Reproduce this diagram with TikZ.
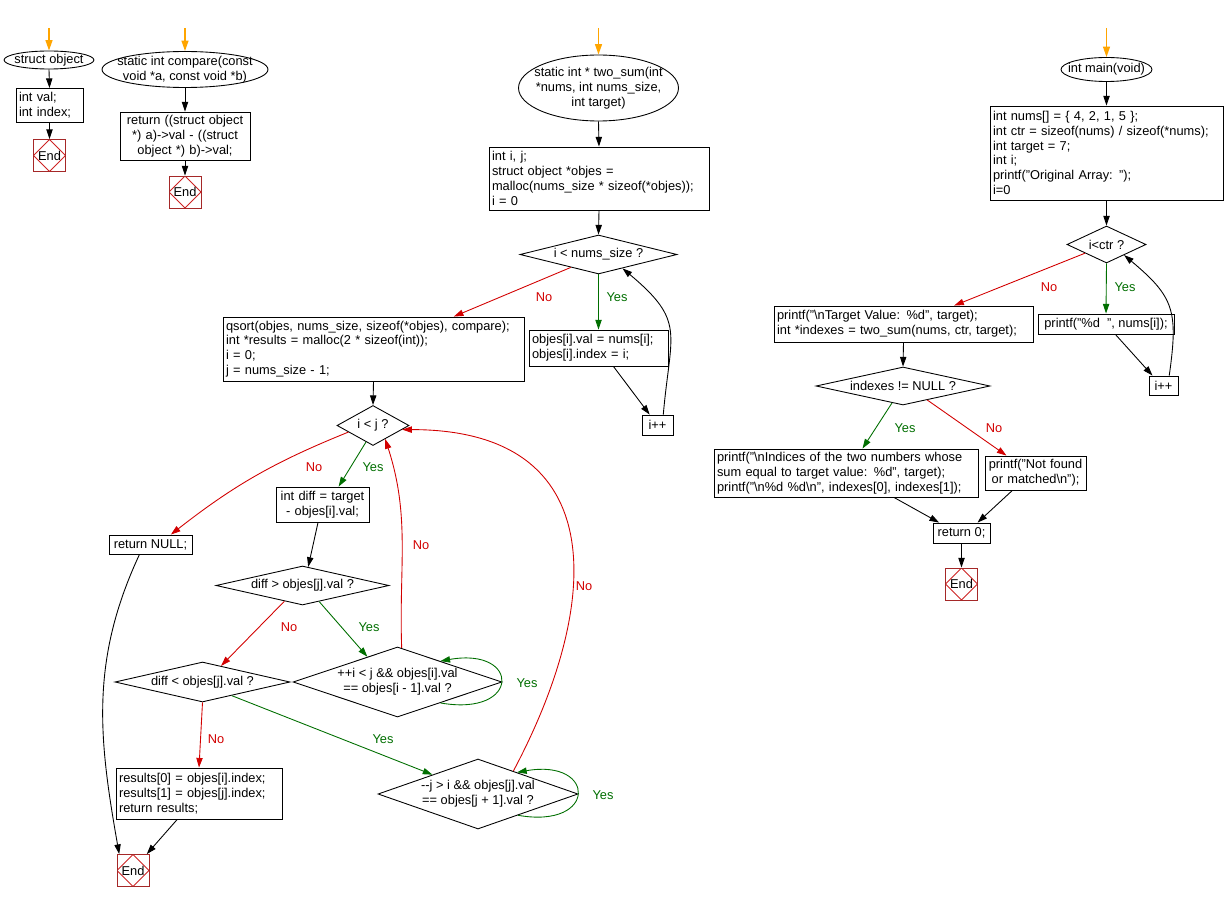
\documentclass[tikz,border=0pt]{standalone}
\usepackage{fontspec}
\setmainfont{Liberation Sans}
\usetikzlibrary{shapes.geometric,arrows.meta,positioning}

\definecolor{cYes}{RGB}{0,110,0}
\definecolor{cNo}{RGB}{210,0,0}
\definecolor{cStart}{RGB}{255,165,0}
\definecolor{cEnd}{RGB}{165,40,40}
\definecolor{cEndIn}{RGB}{205,35,35}

\tikzset{
  flow/.style={-{Triangle[length=5.5pt,width=3.6pt]}},
  yesarr/.style={flow, cYes},
  noarr/.style={flow, cNo},
  entry/.style={-{Triangle[length=6pt,width=4pt]}, cStart, line width=0.8pt},
  proc/.style={draw, inner xsep=0.06cm, inner ysep=0.04cm, align=left},
  proccen/.style={proc, align=center},
  term/.style={inner sep=0pt, align=center},
  cond/.style={draw, diamond, inner sep=0pt, align=center},
  endbox/.style={draw=cEnd, minimum size=0.64cm, inner sep=0pt,
    path picture={\draw[cEndIn] (path picture bounding box.north)
      -- (path picture bounding box.east) -- (path picture bounding box.south)
      -- (path picture bounding box.west) -- cycle;}},
  yeslbl/.style={text=cYes, inner sep=1pt},
  nolbl/.style={text=cNo, inner sep=1pt},
}

\begin{document}
\begin{tikzpicture}[x=0.02cm, y=-0.02cm,
  font=\fontsize{7.3pt}{8.4pt}\selectfont, line width=0.5pt]

\useasboundingbox (0,0) rectangle (1224,902);

%% ---------- struct object ----------
\coordinate (st1) at (49,28);
\node[term, minimum width=1.8cm, minimum height=0.36cm] (sobj) at (49,60) {struct object};
\node[proc, text width=1.22cm, minimum height=0.68cm] (obj) at (49.5,105.5) {int val;\\int index;};
\node[endbox] (end1) at (49.5,155.5) {End};

%% ---------- compare ----------
\coordinate (st2) at (185,28);
\node[term, minimum width=3.32cm, minimum height=0.72cm] (cmp) at (185,69.5)
  {static int compare(const\\void *a, const void *b)};
\node[proccen, text width=2.48cm, minimum height=0.96cm] (cmpb) at (185,136)
  {return ((struct object\\{}*) a)->val - ((struct\\object *) b)->val;};
\node[endbox] (end2) at (185,192) {End};

%% ---------- two_sum ----------
\coordinate (st3) at (598.5,28);
\node[term, minimum width=3.2cm, minimum height=1.32cm] (tsum) at (598.5,88)
  {static int * two\_sum(int\\{}*nums, int nums\_size,\\int target)};
\node[proc, text width=4.28cm, minimum height=1.26cm] (init) at (599,178.5)
  {int i, j;\\struct object *objes =\\malloc(nums\_size * sizeof(*objes));\\i = 0};
\node[cond, aspect=4, minimum width=3.14cm, minimum height=0.78cm] (nsz) at (598.5,254.5) {i < nums\_size ?};
\node[proc, text width=2.66cm, minimum height=0.72cm] (objes) at (598.5,348)
  {objes[i].val = nums[i];\\objes[i].index = i;};
\node[proccen, minimum width=0.62cm, minimum height=0.4cm] (ippa) at (657.5,425) {i++};
\node[proc, text width=5.9cm, minimum height=1.28cm] (qsort) at (373.5,349)
  {qsort(objes, nums\_size, sizeof(*objes), compare);\\int *results = malloc(2 * sizeof(int));\\i = 0;\\j = nums\_size - 1;};
\node[cond, aspect=1.8, minimum width=1.44cm, minimum height=0.8cm] (ilj) at (373,425.5) {i < j ?};
\node[proccen, text width=1.74cm, minimum height=0.7cm] (diff) at (322.5,504.5)
  {int diff = target\\- objes[i].val;};
\node[proccen, minimum width=1.66cm, minimum height=0.38cm] (retnull) at (150.5,544.5) {return NULL;};
\node[cond, aspect=4.4, minimum width=3.46cm, minimum height=0.78cm] (dgt) at (302.5,585.5) {diff > objes[j].val ?};
\node[cond, aspect=4.4, minimum width=3.5cm, minimum height=0.8cm] (dlt) at (202.5,682) {diff < objes[j].val ?};
\node[cond, aspect=3, minimum width=4.18cm, minimum height=1.4cm] (inc) at (397.5,682)
  {++i < j \&\& objes[i].val\\== objes[i - 1].val ?};
\node[proc, text width=3.2cm, minimum height=1.02cm] (results) at (199,793.5)
  {results[0] = objes[i].index;\\results[1] = objes[j].index;\\return results;};
\node[cond, aspect=2.86, minimum width=4cm, minimum height=1.4cm] (dec) at (478,794)
  {-{}-j > i \&\& objes[j].val\\== objes[j + 1].val ?};
\node[endbox] (end3) at (133,870.5) {End};

%% ---------- main ----------
\coordinate (st4) at (1106.5,28);
\node[term, minimum width=1.82cm, minimum height=0.48cm] (mainel) at (1106.5,69.5) {int main(void)};
\node[proc, text width=4.54cm, minimum height=1.88cm] (minit) at (1106.5,153)
  {int nums[] = \{ 4, 2, 1, 5 \};\\int ctr = sizeof(nums) / sizeof(*nums);\\int target = 7;\\int i;\\printf("Original Array: ");\\i=0};
\node[cond, aspect=2.1, minimum width=1.58cm, minimum height=0.74cm] (ictr) at (1106.5,244.5) {i<ctr ?};
\node[proccen, minimum width=2.72cm, minimum height=0.4cm] (pd) at (1106,324) {printf("\%d~~", nums[i]);};
\node[proccen, minimum width=0.58cm, minimum height=0.38cm] (ippb) at (1163.5,385.5) {i++};
\node[proc, text width=5.06cm, minimum height=0.72cm] (ptgt) at (903.5,324)
  {printf("\textbackslash nTarget Value: \%d", target);\\int *indexes = two\_sum(nums, ctr, target);};
\node[cond, aspect=4.6, minimum width=3.48cm, minimum height=0.76cm] (inn) at (903,386) {indexes != NULL ?};
\node[proc, text width=5.16cm, minimum height=0.96cm] (ind) at (846,473)
  {printf("\textbackslash nIndices of the two numbers whose\\sum equal to target value: \%d", target);\\printf("\textbackslash n\%d \%d\textbackslash n", indexes[0], indexes[1]);};
\node[proccen, text width=1.9cm, minimum height=0.68cm] (nf) at (1035.5,473)
  {printf("Not found\\or matched\textbackslash n");};
\node[proccen, minimum width=1.14cm, minimum height=0.4cm] (ret0) at (961.5,533) {return 0;};
\node[endbox] (end4) at (961.5,584) {End};

%% terminal outlines
\foreach \nd/\rx/\ry in {sobj/0.9cm/0.18cm, cmp/1.66cm/0.36cm, tsum/1.6cm/0.66cm, mainel/0.91cm/0.24cm}
  \draw (\nd.center) ellipse [x radius=\rx, y radius=\ry];

%% ---------- connectors ----------
\draw[entry] (st1) -- (sobj.north);
\draw[flow] (sobj.south) -- (obj.north);
\draw[flow] (obj.south) -- (end1.north);

\draw[entry] (st2) -- (cmp.north);
\draw[flow] (cmp.south) -- (cmpb.north);
\draw[flow] (cmpb.south) -- (end2.north);

\draw[entry] (st3) -- (tsum.north);
\draw[flow] (tsum.south) -- (init.north);
\draw[flow] (init.south) -- (nsz.north);
\draw[noarr] (nsz.205) -- (qsort.22);
\draw[yesarr] (nsz.south) -- (objes.north);
\draw[flow] (objes.-51) -- (ippa.127);
\draw[flow] (ippa.61) to[out=85, in=-40, looseness=1.4] (nsz.-30);
\draw[flow] (qsort.south) -- (ilj.north);
\draw[noarr] (ilj.195) to[bend right=8] (retnull.26);
\draw[yesarr] (ilj.247) -- (diff.48);
\draw[flow] (diff.256) -- (dgt.73);
\draw[noarr] (dgt.221) -- (dlt.41);
\draw[yesarr] (dgt.-44) -- (inc.140);
\draw[noarr] (inc.83) to[out=92, in=-72] (ilj.-48);
\draw[yesarr] (inc.-26) to[out=-10, in=10, looseness=5] (inc.26);
\draw[noarr] (dlt.south) -- (results.north);
\draw[yesarr] (dlt.-25) -- (dec.157);
\draw[yesarr] (dec.-28) to[out=-10, in=10, looseness=4.8] (dec.29);
\draw[noarr] (dec.33) to[out=62, in=0, out looseness=1.35, in looseness=1.5] (ilj.-8);
\draw[flow] (retnull.222) to[out=245, in=100] (end3.130);
\draw[flow] (results.230) -- (end3.50);

\draw[entry] (st4) -- (mainel.north);
\draw[flow] (mainel.south) -- (minit.north);
\draw[flow] (minit.south) -- (ictr.north);
\draw[noarr] (ictr.202) -- (ptgt.20);
\draw[yesarr] (ictr.south) -- (pd.north);
\draw[flow] (pd.-48) -- (ippb.138);
\draw[flow] (ippb.60) to[out=82, in=-40, looseness=1.3] (ictr.-31);
\draw[flow] (ptgt.south) -- (inn.north);
\draw[yesarr] (inn.237) -- (ind.56);
\draw[noarr] (inn.-30) -- (nf.149);
\draw[flow] (ind.-27) -- (ret0.155);
\draw[flow] (nf.217) -- (ret0.33);
\draw[flow] (ret0.south) -- (end4.north);

%% ---------- branch labels ----------
\node[nolbl] (nszno) at (544,297) {No};
\node[yeslbl] (nszyes) at (617,297) {Yes};
\node[nolbl] (iljno) at (314,467) {No};
\node[yeslbl] (iljyes) at (373,467) {Yes};
\node[nolbl] (incno) at (421,545) {No};
\node[nolbl] (dgtno) at (289,627) {No};
\node[yeslbl] (dgtyes) at (369,627) {Yes};
\node[yeslbl] (incyes) at (527,683) {Yes};
\node[nolbl] (dltno) at (216,739) {No};
\node[yeslbl] (dltyes) at (383,739) {Yes};
\node[nolbl] (decno) at (584,586) {No};
\node[yeslbl] (decyes) at (603,795) {Yes};
\node[nolbl] (ictrno) at (1049,287) {No};
\node[yeslbl] (ictryes) at (1125,287) {Yes};
\node[yeslbl] (innyes) at (905,428) {Yes};
\node[nolbl] (innno) at (994,428) {No};

\end{tikzpicture}
\end{document}
